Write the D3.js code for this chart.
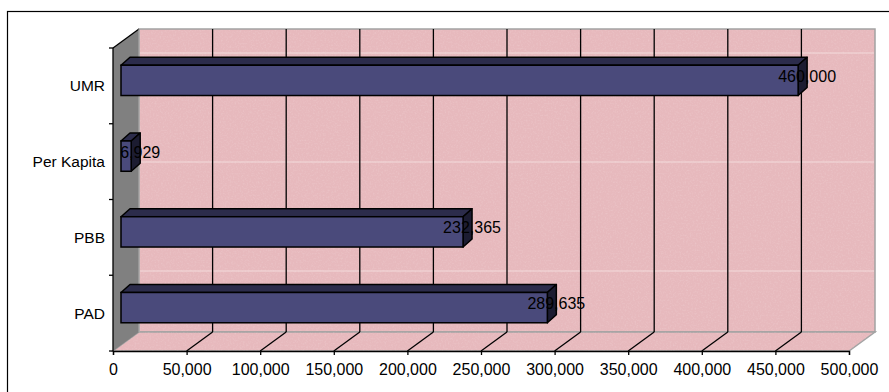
<!DOCTYPE html>
<html>
<head>
<meta charset="utf-8">
<script src="https://cdn.jsdelivr.net/npm/d3@7/dist/d3.min.js"></script>
<style>
  html, body { margin: 0; padding: 0; background: #fff; }
  svg { display: block; }
  text { font-family: "Liberation Sans", Arial, sans-serif; fill: #000; }
</style>
</head>
<body>
<svg id="chart" width="889" height="392"></svg>
<script>
// Categories from bottom to top, with their values
const categories = ["PAD", "PBB", "Per Kapita", "UMR"];
const values = [289635, 232365, 6929, 460000];
const valueLabels = ["289,635", "232,365", "6,929", "460,000"];
const tickValues = [0, 50000, 100000, 150000, 200000, 250000, 300000, 350000, 400000, 450000, 500000];

const svg = d3.select("#chart");

// Front plane of the plot box and the depth offset of the back wall
const front = { x0: 113, x1: 849, top: 48, bottom: 351 };
const depth = { dx: 26, dy: -19 };
// Bars sit partway into the box: front face offset and bar thickness
const barFront = { dx: 8, dy: -5.5 };
const barDepth = { dx: 9, dy: -8 };

const x = d3.scaleLinear().domain([0, 500000]).range([front.x0, front.x1]);
const y = d3.scaleBand()
  .domain(categories.slice().reverse())
  .range([front.top, front.bottom])
  .paddingInner(0.6)
  .paddingOuter(0.3);

const colors = {
  wallPink: "#e7b9bd",
  sideWall: "#808080",
  wallEdge: "#a3a3a3",
  barFront: "#4a4a7b",
  barTop: "#2c2c4b",
  barSide: "#1c1c31"
};

// Paper-like grain for the pink walls
const defs = svg.append("defs");
const grain = defs.append("filter").attr("id", "grain")
  .attr("x", 0).attr("y", 0).attr("width", 1).attr("height", 1);
grain.append("feTurbulence")
  .attr("type", "fractalNoise").attr("baseFrequency", 0.6)
  .attr("numOctaves", 2).attr("seed", 3).attr("result", "noise");
grain.append("feColorMatrix")
  .attr("in", "noise").attr("type", "matrix")
  .attr("values", "0 0 0 0 1  0 0 0 0 1  0 0 0 0 1  0 0 0 -1.4 0.75")
  .attr("result", "spots");
grain.append("feComposite")
  .attr("in", "spots").attr("in2", "SourceGraphic").attr("operator", "in");

// Outer chart frame
svg.append("rect")
  .attr("x", 7.5).attr("y", 11.5)
  .attr("width", 900).attr("height", 400)
  .attr("fill", "#fff").attr("stroke", "#000").attr("stroke-width", 1.2);

const poly = pts => pts.map(p => p.join(",")).join(" ");

// Back wall
const bx0 = front.x0 + depth.dx, bx1 = front.x1 + depth.dx;
const byTop = front.top + depth.dy, byBot = front.bottom + depth.dy;
svg.append("rect")
  .attr("x", bx0).attr("y", byTop)
  .attr("width", bx1 - bx0).attr("height", byBot - byTop)
  .attr("fill", colors.wallPink)
  .attr("stroke", colors.wallEdge).attr("stroke-width", 1.5);
svg.append("rect")
  .attr("x", bx0 + 1).attr("y", byTop + 1)
  .attr("width", bx1 - bx0 - 2).attr("height", byBot - byTop - 2)
  .attr("fill", colors.wallPink)
  .attr("filter", "url(#grain)")
  .attr("opacity", 0.22);

// Faint light streaks of the wall paper
[53, 162, 271].forEach(yy => {
  svg.append("line")
    .attr("x1", bx0 + 1).attr("x2", bx1 - 1)
    .attr("y1", yy).attr("y2", yy)
    .attr("stroke", "#f6e4e4").attr("stroke-width", 1).attr("opacity", 0.8);
});

// Floor
const floorPts = poly([
  [front.x0, front.bottom], [front.x1, front.bottom],
  [bx1, byBot], [bx0, byBot]
]);
svg.append("polygon")
  .attr("points", floorPts)
  .attr("fill", colors.wallPink)
  .attr("stroke", colors.wallEdge).attr("stroke-width", 1.5);
svg.append("polygon")
  .attr("points", floorPts)
  .attr("fill", colors.wallPink)
  .attr("filter", "url(#grain)")
  .attr("opacity", 0.22);

// Left side wall
svg.append("polygon")
  .attr("points", poly([
    [front.x0, front.top], [bx0, byTop],
    [bx0, byBot], [front.x0, front.bottom]
  ]))
  .attr("fill", colors.sideWall)
  .attr("stroke", "none");
svg.append("line")
  .attr("x1", front.x0).attr("y1", front.top)
  .attr("x2", bx0).attr("y2", byTop)
  .attr("stroke", "#000").attr("stroke-width", 1.3);
svg.append("line")
  .attr("x1", bx0).attr("y1", byTop)
  .attr("x2", bx0).attr("y2", byBot)
  .attr("stroke", "#b0b0b0").attr("stroke-width", 1);

// Gridlines on back wall and floor
const inner = tickValues.filter(t => t > 0 && t < 500000);
svg.append("g").selectAll("line").data(inner).join("line")
  .attr("x1", d => x(d) + depth.dx).attr("x2", d => x(d) + depth.dx)
  .attr("y1", byTop).attr("y2", byBot)
  .attr("stroke", "#000").attr("stroke-width", 1.3);
svg.append("g").selectAll("line").data(inner).join("line")
  .attr("x1", d => x(d)).attr("y1", front.bottom)
  .attr("x2", d => x(d) + depth.dx).attr("y2", byBot)
  .attr("stroke", "#000").attr("stroke-width", 1.3);

// Value axis along the front edge of the floor
const xAxis = d3.axisBottom(x)
  .tickValues(tickValues)
  .tickSize(4)
  .tickPadding(9)
  .tickFormat(d3.format(","));
const gx = svg.append("g")
  .attr("transform", `translate(0,${front.bottom})`)
  .call(xAxis);
gx.select(".domain").attr("stroke", "#000").attr("stroke-width", 1.3);
gx.selectAll(".tick line").attr("stroke", "#000").attr("stroke-width", 1.3);
gx.selectAll(".tick text")
  .style("font-family", "\"Liberation Sans\", Arial, sans-serif")
  .style("font-size", "16px")
  .attr("fill", "#000");

// Category axis along the front left edge
const yEdges = d3.range(categories.length + 1).map(i => front.top + i * (front.bottom - front.top) / categories.length);
svg.append("line")
  .attr("x1", front.x0).attr("x2", front.x0)
  .attr("y1", front.top).attr("y2", front.bottom)
  .attr("stroke", "#000").attr("stroke-width", 1.3);
svg.append("g").selectAll("line").data(yEdges).join("line")
  .attr("x1", front.x0 - 4).attr("x2", front.x0)
  .attr("y1", d => d).attr("y2", d => d)
  .attr("stroke", "#000").attr("stroke-width", 1.3);
svg.append("g").selectAll("text").data(categories).join("text")
  .attr("x", 105)
  .attr("y", d => y(d) + y.bandwidth() / 2)
  .attr("dy", "0.35em")
  .attr("text-anchor", "end")
  .style("font-size", "15.5px")
  .text(d => d);

// 3D bars: front, top and right-hand end faces
const bars = categories.map((c, i) => ({ c, v: values[i], label: valueLabels[i] }));
const gb = svg.append("g");
bars.forEach(b => {
  const xl = x(0) + barFront.dx, xr = x(b.v) + barFront.dx;
  const yt = y(b.c) + barFront.dy, yb = yt + y.bandwidth();
  const ddx = barDepth.dx, ddy = barDepth.dy;
  gb.append("polygon")
    .attr("points", poly([[xl, yt], [xl + ddx, yt + ddy], [xr + ddx, yt + ddy], [xr, yt]]))
    .attr("fill", colors.barTop).attr("stroke", "#000").attr("stroke-width", 1.5)
    .attr("stroke-linejoin", "round");
  gb.append("polygon")
    .attr("points", poly([[xr, yt], [xr + ddx, yt + ddy], [xr + ddx, yb + ddy], [xr, yb]]))
    .attr("fill", colors.barSide).attr("stroke", "#000").attr("stroke-width", 1.5)
    .attr("stroke-linejoin", "round");
  gb.append("rect")
    .attr("x", xl).attr("y", yt)
    .attr("width", xr - xl).attr("height", yb - yt)
    .attr("fill", colors.barFront).attr("stroke", "#000").attr("stroke-width", 1.5);
});

// Value labels centred on each bar's end
svg.append("g").selectAll("text").data(bars).join("text")
  .attr("x", d => x(d.v) + barFront.dx + barDepth.dx)
  .attr("y", d => y(d.c) + barFront.dy + y.bandwidth() / 2 - 4)
  .attr("dy", "0.35em")
  .attr("text-anchor", "middle")
  .style("font-size", "16px")
  .text(d => d.label);
</script>
</body>
</html>
